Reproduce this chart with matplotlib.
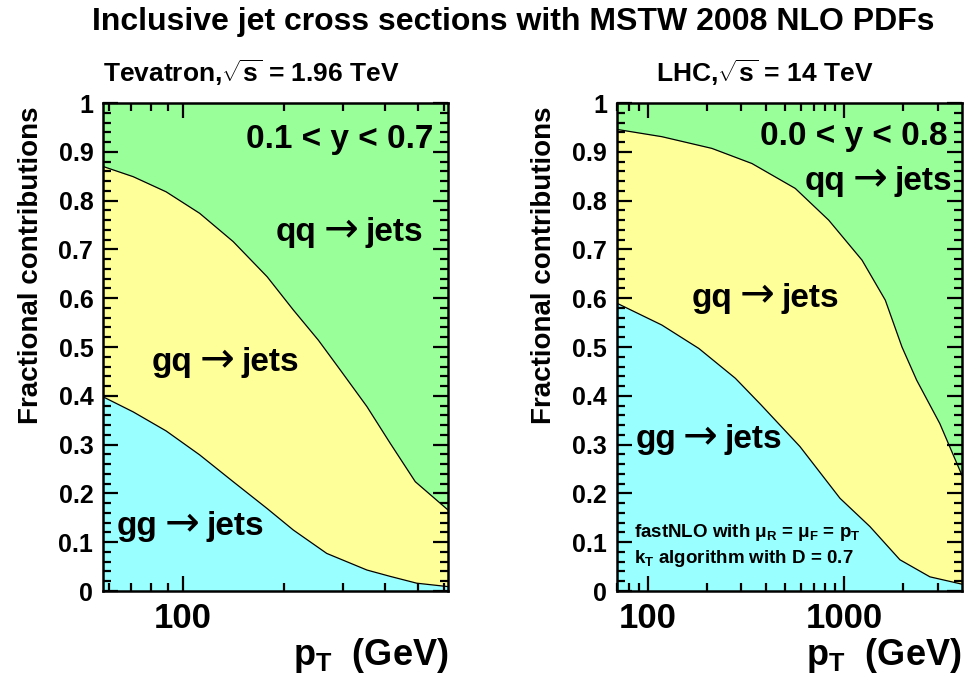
import matplotlib
matplotlib.use("Agg")
import matplotlib.pyplot as plt
from matplotlib.ticker import FixedLocator, NullFormatter, FixedFormatter, MultipleLocator
from matplotlib.offsetbox import TextArea, HPacker, AnnotationBbox

plt.rcParams['font.family'] = ['Liberation Sans', 'DejaVu Sans']
plt.rcParams['font.weight'] = 'bold'
plt.rcParams['mathtext.fontset'] = 'custom'
plt.rcParams['mathtext.rm'] = 'Liberation Sans:bold'
plt.rcParams['mathtext.it'] = 'Liberation Sans:bold'
plt.rcParams['mathtext.bf'] = 'Liberation Sans:bold'
plt.rcParams['mathtext.sf'] = 'Liberation Sans:bold'

GREEN = '#99ff99'
YELLOW = '#ffff99'
CYAN = '#99ffff'

# Tevatron, 0.1 < y < 0.7 : cumulative fractions
tev_upper_pt = [57.7, 71, 89, 112, 141, 178, 213, 253, 294, 353, 414, 492, 616]
tev_upper = [0.870, 0.849, 0.818, 0.774, 0.716, 0.644, 0.576, 0.514, 0.453, 0.378, 0.303, 0.224, 0.166]  # gg + gq
tev_lower_pt = [57.7, 71, 89, 112, 141, 178, 213, 268, 353, 414, 497, 616]
tev_lower = [0.398, 0.367, 0.328, 0.279, 0.224, 0.169, 0.125, 0.077, 0.043, 0.030, 0.016, 0.009]  # gg

# LHC, 0.0 < y < 0.8
lhc_upper_pt = [69.5, 118, 212, 339, 563, 833, 1231, 1617, 1966, 2335, 3063, 3970]
lhc_upper = [0.946, 0.931, 0.907, 0.876, 0.825, 0.760, 0.678, 0.596, 0.500, 0.432, 0.343, 0.237]
lhc_lower_pt = [69.5, 118, 182, 279, 376, 595, 951, 1351, 1919, 2728, 3970]
lhc_lower = [0.590, 0.545, 0.497, 0.436, 0.382, 0.296, 0.190, 0.132, 0.064, 0.029, 0.014]

y_ticks = [0, 0.1, 0.2, 0.3, 0.4, 0.5, 0.6, 0.7, 0.8, 0.9, 1.0]
y_labels = ['0', '0.1', '0.2', '0.3', '0.4', '0.5', '0.6', '0.7', '0.8', '0.9', '1']

panels = [
    dict(title=r'Tevatron,$\sqrt{s}$ = 1.96 TeV', xlim=(57.7, 616),
         up_x=tev_upper_pt, up=tev_upper, lo_x=tev_lower_pt, lo=tev_lower,
         major=[100], minor=[60, 70, 80, 90, 200, 300, 400, 500, 600]),
    dict(title=r'LHC,$\sqrt{s}$ = 14 TeV', xlim=(69.5, 3970),
         up_x=lhc_upper_pt, up=lhc_upper, lo_x=lhc_lower_pt, lo=lhc_lower,
         major=[100, 1000],
         minor=[70, 80, 90, 200, 300, 400, 500, 600, 700, 800, 900, 2000, 3000]),
]


def reaction(ax, x, y, initial, right=False):
    # "xx -> jets" with a thin arrow, y is the baseline in axes fraction
    bold = dict(fontsize=24, weight='bold', family='Liberation Sans')
    parts = [TextArea(initial, textprops=bold),
             TextArea('\u2192', textprops=dict(fontsize=30, weight='normal', family='DejaVu Sans')),
             TextArea('jets', textprops=bold)]
    box = HPacker(children=parts, align='baseline', pad=0, sep=5)
    ab = AnnotationBbox(box, (x, y - 0.0145), xycoords='axes fraction',
                        box_alignment=(1 if right else 0, 0), frameon=False, pad=0)
    ax.add_artist(ab)


fig = plt.figure(figsize=(9.67, 6.79), dpi=100)
ax_l = fig.add_axes([0.1065, 0.1296, 0.3568, 0.7187])
ax_r = fig.add_axes([0.6377, 0.1296, 0.3571, 0.7187])

for ax, p in zip([ax_l, ax_r], panels):
    ax.set_xscale('log')
    ax.set_facecolor(GREEN)
    ax.fill_between(p['up_x'], p['up'], 0, color=YELLOW, lw=0)
    ax.fill_between(p['lo_x'], p['lo'], 0, color=CYAN, lw=0)
    ax.plot(p['up_x'], p['up'], color='black', lw=0.9)
    ax.plot(p['lo_x'], p['lo'], color='black', lw=0.9)
    ax.set_xlim(*p['xlim'])
    ax.set_ylim(0, 1)

    ax.xaxis.set_major_locator(FixedLocator(p['major']))
    ax.xaxis.set_major_formatter(FixedFormatter([str(v) for v in p['major']]))
    ax.xaxis.set_minor_locator(FixedLocator(p['minor']))
    ax.xaxis.set_minor_formatter(NullFormatter())
    ax.set_yticks(y_ticks, y_labels)
    ax.yaxis.set_minor_locator(MultipleLocator(0.02))

    ax.tick_params(which='both', direction='in', top=True, right=True, width=1.6)
    ax.tick_params(which='major', length=11)
    ax.tick_params(which='minor', length=6)
    ax.tick_params(axis='x', which='major', labelsize=25, pad=8)
    ax.tick_params(axis='y', which='major', labelsize=18, pad=7)
    for s in ax.spines.values():
        s.set_linewidth(1.8)

    ax.text(0.43, 1.03, p['title'], transform=ax.transAxes, ha='center',
            va='bottom', fontsize=19)
    ax.text(-0.21, 0.993, 'Fractional contributions', transform=ax.transAxes,
            rotation=90, ha='center', va='top', fontsize=20)
    ax.text(1.0, -0.152, r'p$_{T}$  (GeV)', transform=ax.transAxes,
            ha='right', va='baseline', fontsize=26)

ax_l.text(0.957, 0.908, '0.1 < y < 0.7', transform=ax_l.transAxes, ha='right',
          va='baseline', fontsize=24)
reaction(ax_l, 0.928, 0.713, 'qq', right=True)
reaction(ax_l, 0.141, 0.447, 'gq')
reaction(ax_l, 0.040, 0.111, 'gg')

ax_r.text(0.957, 0.914, '0.0 < y < 0.8', transform=ax_r.transAxes, ha='right',
          va='baseline', fontsize=24)
reaction(ax_r, 0.971, 0.818, 'qq', right=True)
reaction(ax_r, 0.218, 0.579, 'gq')
reaction(ax_r, 0.054, 0.289, 'gg')
ax_r.text(0.049, 0.111, r'fastNLO with $\mu_{R}$ = $\mu_{F}$ = p$_{T}$', transform=ax_r.transAxes,
          ha='left', va='baseline', fontsize=13.5)
ax_r.text(0.049, 0.057, r'k$_{T}$ algorithm with D = 0.7', transform=ax_r.transAxes,
          ha='left', va='baseline', fontsize=13.5)

fig.text(0.531, 0.968, 'Inclusive jet cross sections with MSTW 2008 NLO PDFs',
         ha='center', va='center', fontsize=23)

fig.savefig('out.png', dpi=100)
